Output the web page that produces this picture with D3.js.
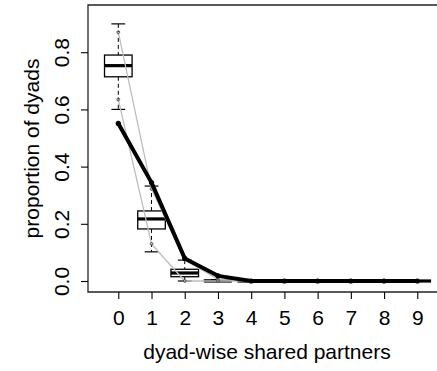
<!DOCTYPE html>
<html><head><meta charset="utf-8">
<script src="https://cdn.jsdelivr.net/npm/d3@7"></script>
<style>body{margin:0;background:#fff}svg{display:block}text{font-family:"Liberation Sans",Arial,sans-serif}</style>
</head><body>
<script>
const categories = [0,1,2,3,4,5,6,7,8,9];
const observed = [0.551,0.344,0.079,0.018,0,0,0,0,0,0];
const upper95 = [0.870,0.322,0.074,0.006,0,0,0,0,0,0];
const lower95 = [0.635,0.130,0.000,0.000,0,0,0,0,0,0];
const boxLow = [0.600,0.102,0.000,0,0,0,0,0,0,0];
const boxQ1 = [0.714,0.182,0.015,0,0,0,0,0,0,0];
const boxMed = [0.753,0.217,0.028,0,0,0,0,0,0,0];
const boxQ3 = [0.790,0.245,0.041,0.003,0,0,0,0,0,0];
const boxHigh = [0.899,0.332,0.073,0.005,0,0,0,0,0,0];
const yTicks = [0,0.2,0.4,0.6,0.8];
const xLabel = "dyad-wise shared partners";
const yLabel = "proportion of dyads";

const W=437,H=371;
const svg=d3.select("body").append("svg").attr("width",W).attr("height",H);
const x=d3.scaleLinear().domain([0,9]).range([118.3,417.3]);
const y=d3.scaleLinear().domain([0,0.8]).range([281,52.2]);
const step=x(1)-x(0), bw=step*0.83;
const fs=21;

// boxplots
const g=svg.append("g");
categories.forEach((c,i)=>{
  const cx=x(c);
  g.append("line").attr("x1",cx).attr("x2",cx).attr("y1",y(boxHigh[i])).attr("y2",y(boxQ3[i]))
    .attr("stroke","#000").attr("stroke-width",1).attr("stroke-dasharray","4,3");
  g.append("line").attr("x1",cx).attr("x2",cx).attr("y1",y(boxQ1[i])).attr("y2",y(boxLow[i]))
    .attr("stroke","#000").attr("stroke-width",1).attr("stroke-dasharray","4,3");
  [boxHigh[i],boxLow[i]].forEach(v=>g.append("line").attr("x1",cx-bw/4).attr("x2",cx+bw/4)
    .attr("y1",y(v)).attr("y2",y(v)).attr("stroke","#000").attr("stroke-width",1.2));
  g.append("rect").attr("x",cx-bw/2).attr("width",bw).attr("y",y(boxQ3[i]))
    .attr("height",Math.max(0,y(boxQ1[i])-y(boxQ3[i]))).attr("fill","#fff").attr("stroke","#000").attr("stroke-width",1.3);
  g.append("line").attr("x1",cx-bw/2).attr("x2",cx+bw/2).attr("y1",y(boxMed[i])).attr("y2",y(boxMed[i]))
    .attr("stroke","#000").attr("stroke-width",3.2);
});

// grey quantile lines
const line=d3.line().x((d,i)=>x(categories[i])).y(d=>y(d));
[upper95,lower95].forEach(arr=>{
  svg.append("path").attr("d",line(arr)).attr("fill","none").attr("stroke","#bebebe").attr("stroke-width",1.3);
  svg.selectAll(null).data(arr).enter().append("circle").attr("cx",(d,i)=>x(categories[i])).attr("cy",d=>y(d))
    .attr("r",1.4).attr("fill","none").attr("stroke","#555").attr("stroke-width",1);
});

// observed
svg.append("path").attr("d",line(observed)).attr("fill","none").attr("stroke","#000").attr("stroke-width",4).attr("stroke-linejoin","round");
svg.selectAll(null).data(observed).enter().append("circle").attr("cx",(d,i)=>x(categories[i])).attr("cy",d=>y(d))
  .attr("r",2.6).attr("fill","#000");

// frame
svg.append("path").attr("d","M437,5H88V292H437").attr("fill","none").attr("stroke","#222").attr("stroke-width",1.3);

// axes
const xa=svg.append("g").attr("transform","translate(0,292)")
  .call(d3.axisBottom(x).tickValues(categories).tickSize(7).tickFormat(d3.format("d")));
xa.select(".domain").remove();
xa.selectAll("line").attr("stroke","#000").attr("stroke-width",1.1);
xa.selectAll("text").attr("y",32.5).attr("dy",0).attr("font-size",fs).attr("fill","#000")
  .style("font-family",'"Liberation Sans",Arial,sans-serif');

const ya=svg.append("g").attr("transform","translate(88,0)")
  .call(d3.axisLeft(y).tickValues(yTicks).tickSize(7).tickFormat(d3.format(".1f")));
ya.select(".domain").remove();
ya.selectAll("line").attr("stroke","#000").attr("stroke-width",1.1);
ya.selectAll("text").attr("x",0).attr("y",0).attr("dy",0).attr("text-anchor","middle")
  .attr("transform","translate(-19,0) rotate(-90)").attr("font-size",fs).attr("fill","#000")
  .style("font-family",'"Liberation Sans",Arial,sans-serif');

svg.append("text").attr("x",267).attr("y",359).attr("text-anchor","middle").attr("font-size",fs).text(xLabel);
svg.append("text").attr("transform","translate(38.5,148.5) rotate(-90)").attr("text-anchor","middle").attr("font-size",fs).text(yLabel);
</script>
</body></html>
